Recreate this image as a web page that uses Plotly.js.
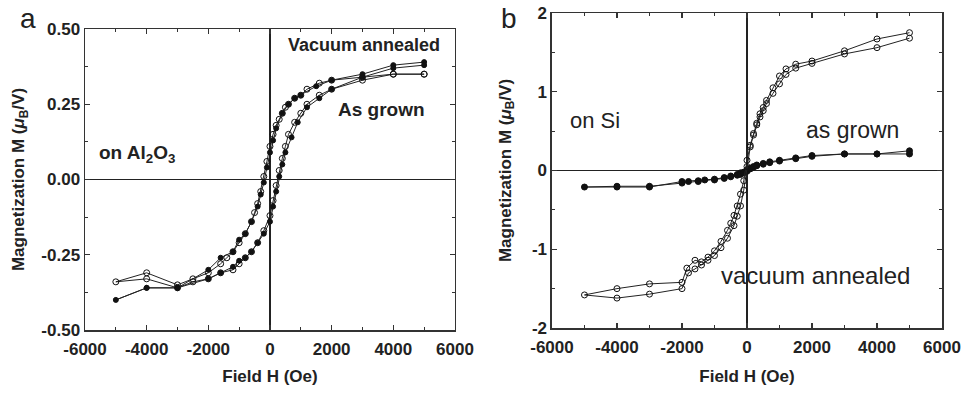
<!DOCTYPE html>
<html><head><meta charset="utf-8">
<script src="https://cdn.plot.ly/plotly-3.0.1.min.js"></script>
<style>html,body{margin:0;padding:0;background:#fff}#c{width:966px;height:393px}</style>
</head><body><div id="c"></div>
<script>
// Panel a (on Al2O3): as grown (open circles) loop
const aGrownH = [5000,4000,3000,2000,1600,1200,1000,800,600,500,400,300,200,100,0,-100,-200,-300,-400,-500,-600,-800,-1000,-1200,-1400,-1600,-2000,-2500,-3000,-4000,-5000,
                 -4000,-3000,-2500,-2000,-1600,-1200,-1000,-800,-600,-400,-200,0,100,200,300,400,500,600,800,1000,1200,1600,2000,3000,4000,5000];
const aGrownM = [0.35,0.35,0.34,0.33,0.32,0.30,0.28,0.27,0.25,0.24,0.22,0.20,0.18,0.15,0.11,0.06,0.01,-0.04,-0.08,-0.11,-0.14,-0.18,-0.21,-0.24,-0.26,-0.28,-0.31,-0.33,-0.35,-0.31,-0.34,
                 -0.33,-0.36,-0.34,-0.33,-0.31,-0.30,-0.28,-0.26,-0.24,-0.21,-0.17,-0.12,-0.07,-0.02,0.03,0.07,0.11,0.15,0.19,0.22,0.25,0.28,0.30,0.33,0.35,0.35];
// Panel a: vacuum annealed (filled circles) loop
const aAnnH = [5000,4000,3000,2000,1500,1000,800,600,400,200,100,0,-100,-200,-300,-400,-600,-800,-1000,-1200,-1600,-2000,-3000,-4000,-5000,
               -4000,-3000,-2000,-1600,-1200,-1000,-800,-600,-400,-200,0,100,200,300,400,500,700,900,1200,1600,2000,3000,4000,5000];
const aAnnM = [0.39,0.38,0.35,0.33,0.31,0.28,0.27,0.25,0.22,0.17,0.13,0.09,0.04,-0.01,-0.05,-0.09,-0.14,-0.18,-0.20,-0.24,-0.26,-0.30,-0.36,-0.36,-0.40,
               -0.36,-0.36,-0.33,-0.31,-0.29,-0.27,-0.26,-0.24,-0.21,-0.18,-0.14,-0.09,-0.04,0.01,0.05,0.09,0.14,0.19,0.24,0.27,0.30,0.34,0.37,0.38];
// Panel b (on Si): vacuum annealed (open circles) loop
const bAnnH = [5000,4000,3000,2000,1500,1200,1000,800,600,500,400,300,200,100,0,-100,-200,-300,-400,-500,-600,-800,-1000,-1200,-1400,-1600,-1850,-2000,-3000,-4000,-5000,
               -4000,-3000,-2000,-1800,-1600,-1400,-1200,-1000,-800,-600,-400,-300,-200,-100,0,100,200,300,400,500,600,800,1000,1200,1500,2000,3000,4000,5000];
const bAnnM = [1.75,1.67,1.52,1.39,1.35,1.29,1.20,1.05,0.89,0.80,0.72,0.60,0.47,0.32,0.13,-0.13,-0.30,-0.45,-0.57,-0.67,-0.76,-0.90,-1.02,-1.10,-1.16,-1.14,-1.24,-1.42,-1.44,-1.50,-1.58,
               -1.62,-1.57,-1.50,-1.30,-1.25,-1.20,-1.14,-1.08,-0.98,-0.86,-0.70,-0.58,-0.45,-0.25,0.05,0.30,0.45,0.58,0.68,0.76,0.85,0.98,1.10,1.22,1.30,1.36,1.48,1.56,1.68];
// Panel b: as grown (filled circles) loop
const bGrownH = [5000,4000,3000,2000,1500,1000,700,500,300,200,100,0,-100,-200,-300,-500,-700,-1000,-1300,-1500,-1800,-2000,-3000,-4000,-5000,
                 -4000,-3000,-2000,-1500,-1000,-700,-500,-300,-200,-100,0,100,200,300,500,700,1000,1500,2000,3000,4000,5000];
const bGrownM = [0.25,0.21,0.21,0.19,0.16,0.13,0.11,0.09,0.07,0.05,0.03,0.01,-0.02,-0.03,-0.05,-0.07,-0.09,-0.11,-0.12,-0.13,-0.14,-0.14,-0.21,-0.21,-0.21,
                 -0.20,-0.20,-0.16,-0.14,-0.12,-0.10,-0.08,-0.06,-0.05,-0.03,-0.01,0.02,0.04,0.06,0.08,0.10,0.12,0.15,0.18,0.21,0.21,0.21];

// Tick values and labels
const xTickVals = [-6000,-4000,-2000,0,2000,4000,6000];
const xTickText = ['-6000','-4000','-2000','0','2000','4000','6000'];
const yaTickVals = [-0.5,-0.25,0,0.25,0.5];
const yaTickText = ['-0.50','-0.25','0.00','0.25','0.50'];
const ybTickVals = [-2,-1,0,1,2];
const ybTickText = ['-2','-1','0','1','2'];

const bold = a => a.map(s => '<b>' + s + '</b>');
const line = {color:'#222', width:1};
function tr(x, y, filled, xa, ya, size) {
  return {x:x, y:y, xaxis:xa, yaxis:ya, type:'scatter', mode:'lines+markers',
    line:line, marker:{symbol: filled ? 'circle' : 'circle-open', size:size, color:'#111', line:{width:1, color:'#111'}},
    showlegend:false, hoverinfo:'skip'};
}
const data = [
  tr(aGrownH, aGrownM, false, 'x', 'y', 6),
  tr(aAnnH, aAnnM, true, 'x', 'y', 5),
  tr(bGrownH, bGrownM, true, 'x2', 'y2', 6),
  tr(bAnnH, bAnnM, false, 'x2', 'y2', 6)
];
const FF = 'Liberation Sans, Arial, sans-serif';
const tickFont = {family:FF, size:17, color:'#222'};
const titleFont = {family:FF, size:17, color:'#222'};
function axis(extra) {
  return Object.assign({showline:true, linecolor:'#333', linewidth:1.5, mirror:'ticks', ticks:'inside', ticklen:5, tickwidth:1.2, tickcolor:'#333',
    showgrid:false, zeroline:true, zerolinecolor:'#222', zerolinewidth:1.2, tickfont:tickFont, tickmode:'array'}, extra);
}
const layout = {
  width:966, height:393, paper_bgcolor:'#fff', plot_bgcolor:'#fff',
  margin:{l:85, r:24, t:13, b:63},
  xaxis: axis({domain:[0,0.4317], range:[-6000,6000], tickvals:xTickVals, ticktext:bold(xTickText), anchor:'y', ticklabelstandoff:3,
    minor:{dtick:1000, tick0:0, ticks:'inside', ticklen:3, tickcolor:'#333'},
    title:{text:'<b>Field H (Oe)</b>', font:titleFont, standoff:12}}),
  yaxis: axis({domain:[0,0.9495], range:[-0.5,0.5], tickvals:yaTickVals, ticktext:bold(yaTickText), anchor:'x',
    minor:{dtick:0.125, tick0:0, ticks:'inside', ticklen:3, tickcolor:'#333'},
    title:{text:'<b>Magnetization M (<i>μ</i><sub>B</sub>/V)</b>', font:titleFont, standoff:12}}),
  xaxis2: axis({domain:[0.5449,1], range:[-6000,6000], tickvals:xTickVals, ticktext:bold(xTickText), anchor:'y2', ticklabelstandoff:3,
    minor:{dtick:1000, tick0:0, ticks:'inside', ticklen:3, tickcolor:'#333'},
    title:{text:'<b>Field H (Oe)</b>', font:titleFont, standoff:14}}),
  yaxis2: axis({domain:[0.0063,1], range:[-2,2], tickvals:ybTickVals, ticktext:bold(ybTickText), anchor:'x2',
    minor:{dtick:0.5, tick0:0, ticks:'inside', ticklen:3, tickcolor:'#333'},
    title:{text:'<b>Magnetization M (<i>μ</i><sub>B</sub>/V)</b>', font:titleFont, standoff:16}}),
  annotations: [
    {text:'a', xref:'paper', yref:'paper', x:-0.078, y:1.039, yanchor:'top', showarrow:false, font:{family:FF, size:28, color:'#222'}},
    {text:'b', xref:'paper', yref:'paper', x:0.4947, y:1.039, yanchor:'top', showarrow:false, font:{family:FF, size:28, color:'#222'}},
    {text:'<b>Vacuum annealed</b>', xref:'x', yref:'y', x:3050, y:0.447, showarrow:false, font:{family:FF, size:18, color:'#222'}},
    {text:'<b>As grown</b>', xref:'x', yref:'y', x:3630, y:0.233, showarrow:false, font:{family:FF, size:19, color:'#222'}},
    {text:'<b>on Al<sub>2</sub>O<sub>3</sub></b>', xref:'x', yref:'y', x:-5600, y:0.085, xanchor:'left', showarrow:false, font:{family:FF, size:19, color:'#222'}},
    {text:'on Si', xref:'x2', yref:'y2', x:-5500, y:0.63, xanchor:'left', showarrow:false, font:{family:FF, size:22, color:'#222'}},
    {text:'as grown', xref:'x2', yref:'y2', x:3260, y:0.51, showarrow:false, font:{family:FF, size:23, color:'#222'}},
    {text:'vacuum annealed', xref:'x2', yref:'y2', x:2120, y:-1.33, showarrow:false, font:{family:FF, size:24, color:'#222'}}
  ]
};
Plotly.newPlot('c', data, layout, {displayModeBar:false, staticPlot:true});
</script></body></html>
